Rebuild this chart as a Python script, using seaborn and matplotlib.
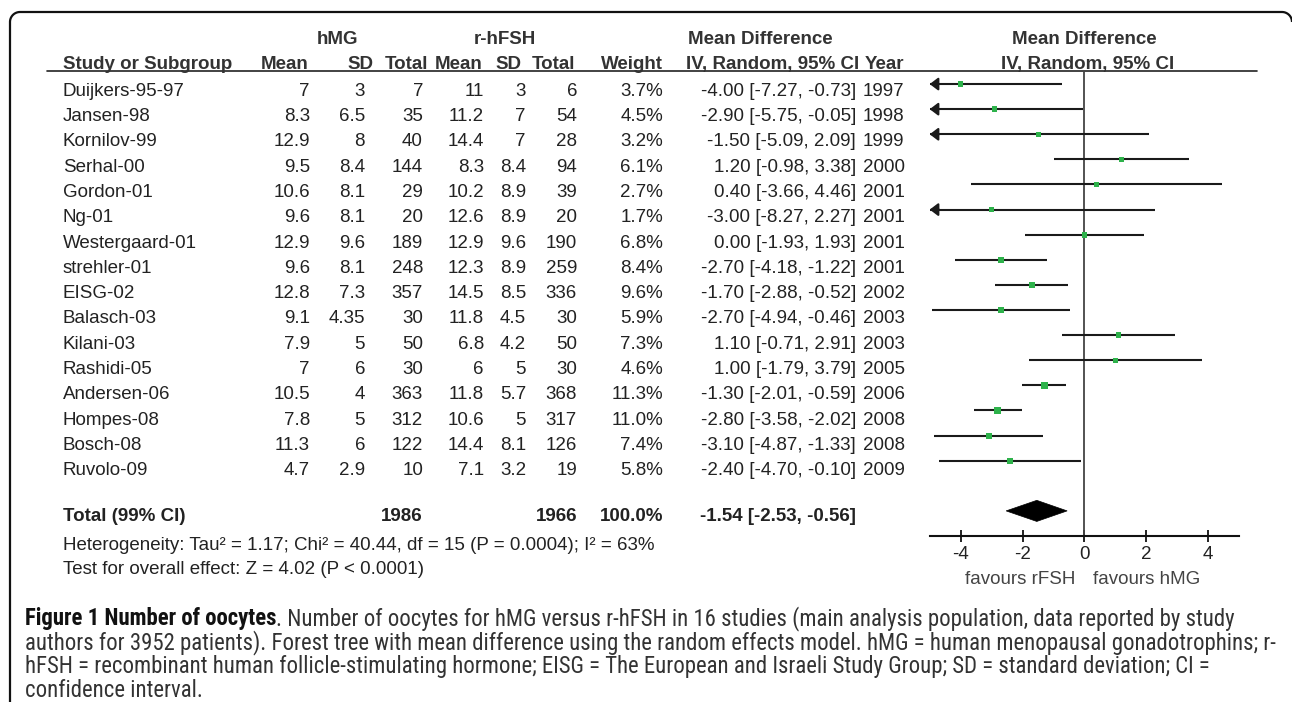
import numpy as np
import pandas as pd
import seaborn as sns
from matplotlib import pyplot as plt
from matplotlib import font_manager
from matplotlib.patches import Polygon

studies = ['Duijkers-95-97', 'Jansen-98', 'Kornilov-99', 'Serhal-00', 'Gordon-01', 'Ng-01',
           'Westergaard-01', 'strehler-01', 'EISG-02', 'Balasch-03', 'Kilani-03', 'Rashidi-05',
           'Andersen-06', 'Hompes-08', 'Bosch-08', 'Ruvolo-09']
hmg_mean = [7, 8.3, 12.9, 9.5, 10.6, 9.6, 12.9, 9.6, 12.8, 9.1, 7.9, 7, 10.5, 7.8, 11.3, 4.7]
hmg_sd = [3, 6.5, 8, 8.4, 8.1, 8.1, 9.6, 8.1, 7.3, 4.35, 5, 6, 4, 5, 6, 2.9]
hmg_n = [7, 35, 40, 144, 29, 20, 189, 248, 357, 30, 50, 30, 363, 312, 122, 10]
fsh_mean = [11, 11.2, 14.4, 8.3, 10.2, 12.6, 12.9, 12.3, 14.5, 11.8, 6.8, 6, 11.8, 10.6, 14.4, 7.1]
fsh_sd = [3, 7, 7, 8.4, 8.9, 8.9, 9.6, 8.9, 8.5, 4.5, 4.2, 5, 5.7, 5, 8.1, 3.2]
fsh_n = [6, 54, 28, 94, 39, 20, 190, 259, 336, 30, 50, 30, 368, 317, 126, 19]
weight = [3.7, 4.5, 3.2, 6.1, 2.7, 1.7, 6.8, 8.4, 9.6, 5.9, 7.3, 4.6, 11.3, 11.0, 7.4, 5.8]
md = [-4.00, -2.90, -1.50, 1.20, 0.40, -3.00, 0.00, -2.70, -1.70, -2.70, 1.10, 1.00, -1.30, -2.80, -3.10, -2.40]
ci_lo = [-7.27, -5.75, -5.09, -0.98, -3.66, -8.27, -1.93, -4.18, -2.88, -4.94, -0.71, -1.79, -2.01, -3.58, -4.87, -4.70]
ci_hi = [-0.73, -0.05, 2.09, 3.38, 4.46, 2.27, 1.93, -1.22, -0.52, -0.46, 2.91, 3.79, -0.59, -2.02, -1.33, -0.10]
year = [1997, 1998, 1999, 2000, 2001, 2001, 2001, 2001, 2002, 2003, 2003, 2005, 2006, 2008, 2008, 2009]

total_hmg, total_fsh = 1986, 1966
total_md, total_lo, total_hi = -1.54, -2.53, -0.56
tick_vals = [-4, -2, 0, 2, 4]

heterogeneity = 'Heterogeneity: Tau\u00b2 = 1.17; Chi\u00b2 = 40.44, df = 15 (P = 0.0004); I\u00b2 = 63%'
overall = 'Test for overall effect: Z = 4.02 (P < 0.0001)'
cap_bold = 'Figure 1 Number of oocytes'
cap_lines = [
    '. Number of oocytes for hMG versus r-hFSH in 16 studies (main analysis population, data reported by study',
    'authors for 3952 patients). Forest tree with mean difference using the random effects model. hMG = human menopausal gonadotrophins; r-',
    'hFSH = recombinant human follicle-stimulating hormone; EISG = The European and Israeli Study Group; SD = standard deviation; CI =',
    'confidence interval.',
]

df = pd.DataFrame({'study': studies, 'md': md, 'lo': ci_lo, 'hi': ci_hi, 'weight': weight})
df['row'] = np.arange(len(df))

sns.set_theme(style='white')
plt.rcParams['font.family'] = ['Liberation Sans', 'DejaVu Sans']
plt.rcParams['axes.unicode_minus'] = False

TXT = '#222222'
HDR = '#333333'
GREEN = '#2eb24b'
FS = 13.5
BASE = 6.7  # text centre -> baseline (px)

W, H = 1292, 702
fig = plt.figure(figsize=(W / 100, H / 100), dpi=100)

# whole-figure axes in pixel units for the table part
tab = fig.add_axes([0, 0, 1, 1])
tab.set_xlim(0, W)
tab.set_ylim(H, 0)
tab.axis('off')


def put(x, y, s, ha='left', bold=False, color=TXT, **kw):
    return tab.text(x, y + BASE, s, ha=ha, va='baseline', fontsize=FS,
                    fontweight='bold' if bold else 'normal', color=color, **kw)


def fmt(v):
    return '%g' % v


# frame: left side, top side, two rounded corners (right side is off the image)
rad = 10
t = np.linspace(0, np.pi / 2, 20)
fx = np.concatenate([[10], 10 + rad - rad * np.cos(t), 1282 + rad * np.sin(t)])
fy = np.concatenate([[H + 5], 12 + rad - rad * np.sin(t), 12 + rad - rad * np.cos(t)])
tab.plot(fx, fy, color='#111111', lw=1.6, solid_capstyle='butt')

# headers
put(337, 37, 'hMG', 'center', True, HDR)
put(505, 37, 'r-hFSH', 'center', True, HDR)
put(688, 37, 'Mean Difference', 'left', True, HDR)
put(1084, 37, 'Mean Difference', 'center', True, HDR)
put(63, 62, 'Study or Subgroup', 'left', True, HDR)
for x, s in [(309, 'Mean'), (373, 'SD'), (428, 'Total'), (483, 'Mean'), (521, 'SD'),
             (575, 'Total'), (663, 'Weight')]:
    put(x, 62, s, 'right', True, HDR)
put(686, 62, 'IV, Random, 95% CI', 'left', True, HDR)
put(865, 62, 'Year', 'left', True, HDR)
put(1088, 62, 'IV, Random, 95% CI', 'center', True, HDR)
tab.plot([47, 1257], [70.5, 70.5], color='#222222', lw=1.2)

# study rows
for i in range(len(studies)):
    y = 89 + 25.3 * i
    put(63, y, studies[i])
    put(310, y, fmt(hmg_mean[i]), 'right')
    put(365, y, fmt(hmg_sd[i]), 'right')
    put(423, y, fmt(hmg_n[i]), 'right')
    put(484, y, fmt(fsh_mean[i]), 'right')
    put(526, y, fmt(fsh_sd[i]), 'right')
    put(577, y, fmt(fsh_n[i]), 'right')
    put(663, y, '%.1f%%' % weight[i], 'right')
    put(856, y, '%.2f [%.2f, %.2f]' % (md[i], ci_lo[i], ci_hi[i]), 'right')
    put(863, y, str(year[i]))

# total row + stats
put(63, 514, 'Total (99% CI)', 'left', True)
put(423, 514, str(total_hmg), 'right', True)
put(577, 514, str(total_fsh), 'right', True)
put(663, 514, '100.0%', 'right', True)
put(856, 514, '%.2f [%.2f, %.2f]' % (total_md, total_lo, total_hi), 'right', True)
put(63, 543, heterogeneity)
put(63, 567, overall)
put(1075, 577, 'favours rFSH', 'right', color='#444444')
put(1093, 577, 'favours hMG', 'left', color='#444444')

# forest plot
fx0, fx1, fy0, fy1 = 929.7, 1239.2, 71, 536
ax = fig.add_axes([fx0 / W, 1 - fy1 / H, (fx1 - fx0) / W, (fy1 - fy0) / H])
ax.patch.set_alpha(0)
ax.axvline(0, color='#444444', lw=1.3, zorder=1)
for _, r in df.iterrows():
    left = max(r['lo'], -5)
    ax.hlines(r['row'], left, min(r['hi'], 5), color='#1a1a1a', lw=1.5, zorder=2)
    if r['lo'] < -5:
        ax.annotate('', xy=(-5, r['row']), xytext=(left + 0.3, r['row']),
                    arrowprops=dict(arrowstyle='-|>,head_length=0.5,head_width=0.38',
                                    color='#1a1a1a', lw=1.5, shrinkA=0, shrinkB=0,
                                    mutation_scale=10),
                    annotation_clip=False)
sns.scatterplot(data=df, x='md', y='row', size='weight', sizes=(11, 24), marker='s',
                color=GREEN, linewidth=0, legend=False, ax=ax, zorder=3)
ax.add_patch(Polygon([(total_lo, 17), (total_md, 16.58), (total_hi, 17), (total_md, 17.42)],
                     closed=True, fc='black', ec='black', lw=0.5))
ax.set_xlim(-5, 5)
ax.set_ylim(18, -0.52)
ax.set_xlabel('')
ax.set_ylabel('')
ax.set_yticks([])
ax.set_xticks(tick_vals)
ax.set_xticklabels([str(v) for v in tick_vals])
for s in ['top', 'left', 'right']:
    ax.spines[s].set_visible(False)
ax.spines['bottom'].set_linewidth(1.5)
ax.spines['bottom'].set_color('#111111')
ax.tick_params(axis='x', bottom=True, direction='inout', length=9, width=1.3, color='#111111',
               labelsize=FS, labelcolor='#222222', pad=2.5)
ax.grid(False)

# caption: pick a condensed face if one is installed, then fit to the line width
fonts = font_manager.fontManager.ttflist
names = {f.name for f in fonts}
cap_family, cap_stretch = 'Liberation Sans', 'normal'
for cand in ['Liberation Sans Narrow', 'Roboto Condensed', 'Noto Sans Condensed',
             'DejaVu Sans Condensed', 'Open Sans Condensed', 'Noto Sans SemiCondensed']:
    if cand in names:
        cap_family = cand
        break

renderer = fig.canvas.get_renderer()
cap_fs = 13.0
cap_y = [617, 641, 665, 689]
cap_kw = dict(family=cap_family, fontstretch=cap_stretch, va='baseline')
b = tab.text(25, cap_y[0], cap_bold, fontsize=cap_fs, fontweight='bold', color='#111111', **cap_kw)
rest = [tab.text(25, y, s, fontsize=cap_fs, color='#333333', **cap_kw)
        for y, s in zip(cap_y, cap_lines)]
w1 = b.get_window_extent(renderer).width + rest[0].get_window_extent(renderer).width
w2 = rest[1].get_window_extent(renderer).width
cap_fs = cap_fs * min((1280 - 25) / w1, (1268 - 25) / w2)
off = cap_fs * 0.5
b.set_fontsize(cap_fs)
b.set_y(cap_y[0] + off)
for t_, y in zip(rest, cap_y):
    t_.set_fontsize(cap_fs)
    t_.set_y(y + off)
rest[0].set_x(25 + b.get_window_extent(renderer).width)

fig.savefig('out.png', dpi=100)
